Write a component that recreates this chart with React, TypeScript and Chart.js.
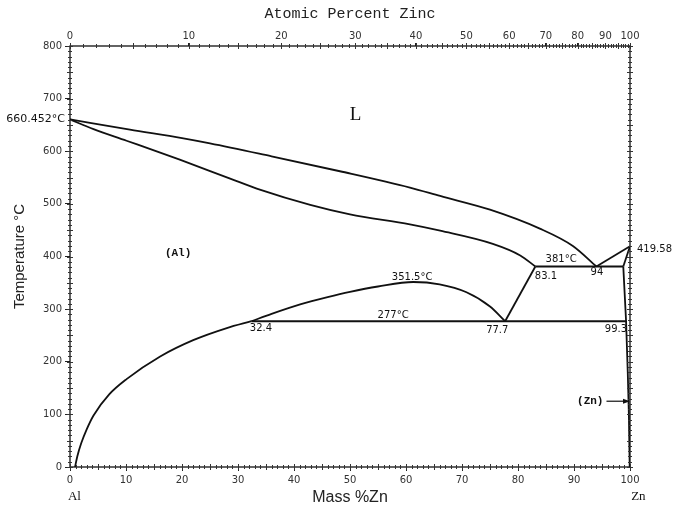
import React, { useEffect, useRef } from 'react';
import { Chart, registerables } from 'chart.js';

Chart.register(...registerables);

// atomic masses used to place the top (atomic %) axis on the mass % scale
const MASS_AL = 26.98;
const MASS_ZN = 65.38;

const atomicTickLabels = [0, 10, 20, 30, 40, 50, 60, 70, 80, 90, 100];
const massTickLabels = [0, 10, 20, 30, 40, 50, 60, 70, 80, 90, 100];
const tempTickLabels = [0, 100, 200, 300, 400, 500, 600, 700, 800];

// Liquidus of (Al) side: Al melting point to eutectic 94 %, 381 °C
const liquidusMass = [0, 10.7, 20, 25, 35.7, 48.2, 60.7, 66.1, 75, 83.9, 89.8, 94];
const liquidusTemp = [660.452, 641, 625, 615, 591, 562, 531, 515, 489, 453, 420, 381];

// Solidus of (Al)
const solidusMass = [0, 4.2, 10.1, 19.6, 28.6, 33.9, 42.9, 50, 60.7, 66.1, 75.5, 80.4, 83.1];
const solidusTemp = [660.452, 642, 620, 584, 548, 527, 498, 480, 461, 449, 424, 402, 381];

// Solvus of (Al) below the monotectoid
const alSolvusMass = [0.9, 1.3, 2, 3, 4.2, 7, 10.1, 16.1, 22, 28, 32.4];
const alSolvusTemp = [0, 20, 45, 72, 98, 138, 167, 210, 241, 264, 277];

// Miscibility gap (Al) + (Al)'
const gapMass = [32.4, 36, 41.1, 46, 50, 55, 61.3, 66, 70.8, 75, 77.7];
const gapTemp = [277, 291, 309, 323, 333, 343, 351.5, 347, 332, 305, 277];

// Straight boundaries
const alPrimeMass = [77.7, 83.1];
const alPrimeTemp = [277, 381];
const eutecticMass = [83.1, 98.8];
const eutecticTemp = [381, 381];
const monotectoidMass = [32.4, 99.3];
const monotectoidTemp = [277, 277];
const znLiquidusMass = [94, 100];
const znLiquidusTemp = [381, 419.58];
const znSolidusMass = [98.8, 100];
const znSolidusTemp = [381, 419.58];
const znSolvusMass = [98.8, 99.3, 99.6, 99.8, 99.95];
const znSolvusTemp = [381, 277, 180, 100, 0];

// In-plot labels: text, mass %, temperature
const labelTexts = ['381°C', '83.1', '94', '351.5°C', '277°C', '32.4', '77.7', '99.3'];
const labelMass = [87.7, 85.0, 94.1, 61.1, 57.7, 34.1, 76.3, 97.5];
const labelTemp = [395, 363, 369, 361, 289, 264, 260, 262];

const toMass = (a: number) => (100 * a * MASS_ZN) / (a * MASS_ZN + (100 - a) * MASS_AL);
const zip = (xs: number[], ys: number[]) => xs.map((x, i) => ({ x, y: ys[i] }));

const curve = (xs: number[], ys: number[], smooth: boolean) => ({
  data: zip(xs, ys),
  borderColor: '#111',
  borderWidth: 1.8,
  pointRadius: 0,
  fill: false,
  showLine: true,
  cubicInterpolationMode: smooth ? 'monotone' : 'default',
  tension: 0,
});

const framePlugin = {
  id: 'phaseFrame',
  beforeDraw(chart: any) {
    const { ctx, width, height } = chart;
    ctx.save();
    ctx.fillStyle = '#fff';
    ctx.fillRect(0, 0, width, height);
    ctx.restore();
  },
  afterDraw(chart: any) {
    const ctx = chart.ctx;
    const sx = chart.scales.x;
    const sy = chart.scales.y;
    const { left, right, top, bottom } = chart.chartArea;
    ctx.save();
    ctx.strokeStyle = '#111';
    ctx.lineWidth = 1.3;
    ctx.strokeRect(left, top, right - left, bottom - top);

    ctx.lineWidth = 1;
    ctx.strokeStyle = '#333';
    ctx.beginPath();
    for (let t = 0; t <= 800; t += 10) {
      const py = Math.round(sy.getPixelForValue(t)) + 0.5;
      const l = t % 50 === 0 ? 3 : 2;
      ctx.moveTo(left - l, py);
      ctx.lineTo(left + l, py);
      ctx.moveTo(right - l, py);
      ctx.lineTo(right + l, py);
    }
    for (let m = 0; m <= 100; m += 1) {
      const px = Math.round(sx.getPixelForValue(m)) + 0.5;
      const l = m % 5 === 0 ? 3 : 2;
      ctx.moveTo(px, bottom - l);
      ctx.lineTo(px, bottom + l);
    }
    for (let a = 0; a <= 100; a += 1) {
      const px = Math.round(sx.getPixelForValue(toMass(a))) + 0.5;
      const l = a % 5 === 0 ? 3 : 2;
      ctx.moveTo(px, top - l);
      ctx.lineTo(px, top + l);
    }
    ctx.stroke();

    ctx.fillStyle = '#111';
    ctx.textBaseline = 'middle';

    // melting points
    ctx.font = '11px "DejaVu Sans"';
    ctx.textAlign = 'right';
    ctx.fillText('660.452°C', left - 5, sy.getPixelForValue(660.452));
    ctx.font = '10px "DejaVu Sans"';
    ctx.textAlign = 'left';
    ctx.fillText('419.58°', right + 7, sy.getPixelForValue(419.58) + 3);

    // invariant labels
    ctx.textAlign = 'center';
    ctx.font = '10px "DejaVu Sans"';
    labelTexts.forEach((t, i) => {
      ctx.fillText(t, sx.getPixelForValue(labelMass[i]), sy.getPixelForValue(labelTemp[i]));
    });

    // phase labels
    ctx.font = '19px "Liberation Serif"';
    ctx.fillText('L', sx.getPixelForValue(51.0), sy.getPixelForValue(668));
    ctx.font = 'bold 11px "Liberation Mono"';
    ctx.fillText('(Al)', sx.getPixelForValue(19.3), sy.getPixelForValue(407));
    ctx.fillText('(Zn)', sx.getPixelForValue(92.9), sy.getPixelForValue(125));

    // arrow from (Zn) to the Zn axis
    const ay = sy.getPixelForValue(125);
    const ax0 = sx.getPixelForValue(95.8);
    const ax1 = sx.getPixelForValue(100);
    ctx.strokeStyle = '#111';
    ctx.lineWidth = 1.2;
    ctx.beginPath();
    ctx.moveTo(ax0, ay);
    ctx.lineTo(ax1 - 5, ay);
    ctx.stroke();
    ctx.beginPath();
    ctx.moveTo(ax1, ay);
    ctx.lineTo(ax1 - 7, ay - 2.5);
    ctx.lineTo(ax1 - 7, ay + 2.5);
    ctx.closePath();
    ctx.fill();

    // element labels under the axis
    ctx.font = '13px "Liberation Serif"';
    ctx.fillText('Al', sx.getPixelForValue(0.8), 497);
    ctx.fillText('Zn', sx.getPixelForValue(101.5), 497);
    ctx.restore();
  },
};

export default function App() {
  const canvasRef = useRef<HTMLCanvasElement | null>(null);

  useEffect(() => {
    const canvas = canvasRef.current;
    if (!canvas) return;
    const tickFont = { family: '"DejaVu Sans"', size: 10 };
    const chart = new Chart(canvas, {
      type: 'scatter',
      data: {
        datasets: [
          curve(liquidusMass, liquidusTemp, true),
          curve(solidusMass, solidusTemp, true),
          curve(alSolvusMass, alSolvusTemp, true),
          curve(gapMass, gapTemp, true),
          curve(alPrimeMass, alPrimeTemp, false),
          curve(eutecticMass, eutecticTemp, false),
          curve(monotectoidMass, monotectoidTemp, false),
          curve(znLiquidusMass, znLiquidusTemp, false),
          curve(znSolidusMass, znSolidusTemp, false),
          curve(znSolvusMass, znSolvusTemp, false),
        ] as any,
      },
      options: {
        animation: false,
        responsive: false,
        devicePixelRatio: 1,
        layout: { padding: { left: 0, right: 43, top: 0, bottom: 0 } },
        plugins: { legend: { display: false }, tooltip: { enabled: false } },
        scales: {
          x: {
            type: 'linear',
            position: 'bottom',
            min: 0,
            max: 100,
            afterBuildTicks: (s: any) => {
              s.ticks = massTickLabels.map((v) => ({ value: v }));
            },
            ticks: { autoSkip: false, maxRotation: 0, color: '#333', font: tickFont, padding: 3 },
            grid: { drawOnChartArea: false, tickLength: 4, color: '#222' },
            border: { display: false },
            title: {
              display: true,
              text: 'Mass %Zn',
              color: '#222',
              font: { family: '"Liberation Sans"', size: 16 },
              padding: { top: 0, bottom: 5 },
            },
            afterFit: (s: any) => {
              s.height = 45;
            },
          },
          xTop: {
            type: 'linear',
            position: 'top',
            min: 0,
            max: 100,
            afterBuildTicks: (s: any) => {
              s.ticks = atomicTickLabels.map((a) => ({ value: toMass(a) }));
            },
            ticks: {
              autoSkip: false,
              maxRotation: 0,
              color: '#333',
              font: tickFont,
              padding: 1,
              callback: (_v: any, i: number) => String(atomicTickLabels[i]),
            },
            grid: { drawOnChartArea: false, tickLength: 3, color: '#222' },
            border: { display: false },
            title: {
              display: true,
              text: 'Atomic Percent Zinc',
              color: '#222',
              font: { family: '"Liberation Mono"', size: 15 },
              padding: { top: 5, bottom: 0 },
            },
            afterFit: (s: any) => {
              s.height = 46;
            },
          },
          y: {
            type: 'linear',
            position: 'left',
            min: 0,
            max: 800,
            afterBuildTicks: (s: any) => {
              s.ticks = tempTickLabels.map((v) => ({ value: v }));
            },
            ticks: { autoSkip: false, color: '#333', font: tickFont, padding: 3 },
            grid: { drawOnChartArea: false, tickLength: 5, color: '#222' },
            border: { display: false },
            title: {
              display: true,
              text: 'Temperature °C',
              color: '#222',
              font: { family: '"Liberation Sans"', size: 15 },
              padding: { top: 11, bottom: 0 },
            },
            afterFit: (s: any) => {
              s.width = 70;
            },
          },
        },
      } as any,
      plugins: [framePlugin],
    });
    return () => chart.destroy();
  }, []);

  return (
    <div style={{ position: 'absolute', left: 0, top: 0, width: 673, height: 512, background: '#fff' }}>
      <canvas ref={canvasRef} width={673} height={512} style={{ display: 'block', width: 673, height: 512 }} />
    </div>
  );
}
